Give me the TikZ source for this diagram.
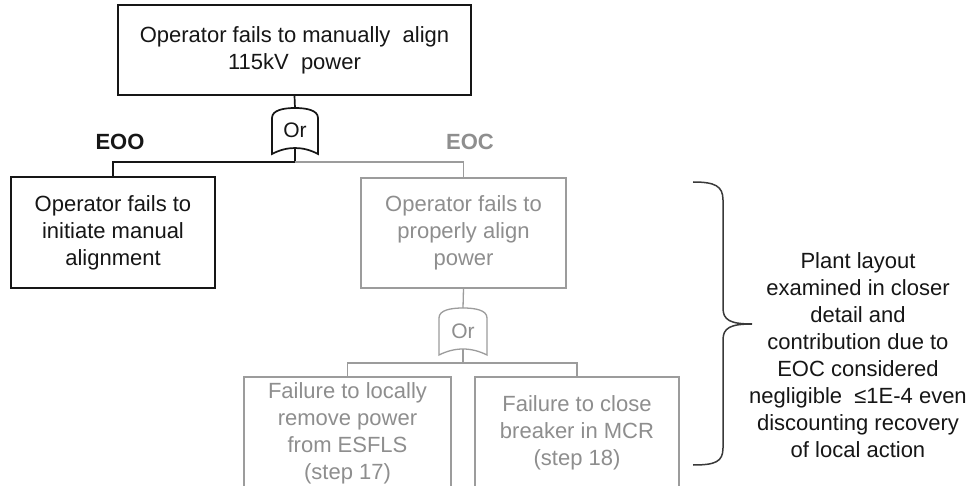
\documentclass[tikz,border=0pt]{standalone}
\usepackage{fontspec}
\setmainfont{Liberation Sans}
\definecolor{ink}{HTML}{161616}
\definecolor{greyline}{HTML}{9C9C9C}
\definecolor{greytext}{HTML}{8E8E8E}
\begin{document}
\begin{tikzpicture}[x=1pt,y=-1pt,
  every node/.style={font=\fontsize{22}{27}\selectfont, inner sep=0pt, align=center},
  blackbox/.style={draw=ink, line width=1.7pt, text=ink},
  greybox/.style={draw=greyline, line width=1.3pt, text=greytext},
  blackline/.style={draw=ink, line width=1.7pt},
  greyline/.style={draw=greyline, line width=1.3pt},
  gatetext/.style={font=\fontsize{21}{25}\selectfont},
  label/.style={font=\bfseries\fontsize{22}{27}\selectfont}]
\useasboundingbox (0,0) rectangle (967,486);
\clip (0,0) rectangle (967,486);
\fill[white] (0,0) rectangle (967,486);

% boxes
\node[blackbox, minimum width=353pt, minimum height=90pt] (top) at (294.5,50)
  {Operator fails to manually\ \ align\\115kV\ \ power};
\node[blackbox, minimum width=204pt, minimum height=111pt] (eoo) at (113,232.5)
  {Operator fails to\\initiate manual\\alignment};
\node[greybox, minimum width=205pt, minimum height=110pt] (eoc) at (463.5,233)
  {Operator fails to\\properly align\\power};
\node[greybox, minimum width=207pt, minimum height=112pt] (b1) at (347.5,433)
  {Failure to locally\\remove power\\from ESFLS\\(step 17)};
\node[greybox, minimum width=204pt, minimum height=112pt] (b2) at (577,433)
  {Failure to close\\breaker in MCR\\(step 18)};

% labels
\node[label, text=ink] (eoolab) at (120,142) {EOO};
\node[label, text=greytext] (eoclab) at (470,142) {EOC};

% gate 1 (black)
\draw[blackline] (272,154) -- (272,118) .. controls (272,110) and (284,108) .. (295,108)
  .. controls (306,108) and (318,110) .. (318,118) -- (318,154)
  .. controls (303,146) and (287,146) .. (272,154) -- cycle;
\node[gatetext, text=ink] (g1) at (295,130) {Or};
\coordinate (g1in) at (295,108);
\coordinate (g1out) at (295,149);
\coordinate (j1) at (295,162);

% gate 2 (grey)
\draw[greyline] (439,355) -- (439,318) .. controls (439,310) and (451,308) .. (463,308)
  .. controls (475,308) and (487,310) .. (487,318) -- (487,355)
  .. controls (471,347) and (455,347) .. (439,355) -- cycle;
\node[gatetext, text=greytext] (g2) at (463,331) {Or};
\coordinate (g2in) at (463,308);
\coordinate (g2out) at (463,349.5);
\coordinate (j2) at (463,363);

% connectors
\draw[blackline] (top.south) -- (g1in);
\draw[blackline] (g1out) -- (j1) -| (eoo.north);
\draw[greyline] (j1) -| (eoc.north);
\draw[greyline] (eoc.south) -- (g2in);
\draw[greyline] (g2out) -- (j2);
\draw[greyline] (j2) -| (b1.north);
\draw[greyline] (j2) -| (b2.north);

% brace
\coordinate (bt) at (693,182);
\coordinate (bm) at (752,324);
\coordinate (bb) at (693,465);
\draw[draw=ink!85, line width=1.5pt]
  (bt) .. controls (715,182) and (723,186) .. (723,200) -- (723,308)
  .. controls (723,320) and (730,324) .. (bm)
  .. controls (730,324) and (723,328) .. (723,340) -- (723,448)
  .. controls (723,462) and (715,465) .. (bb);

% note
\node[text=ink] (note) at (858,355)
  {Plant layout\\examined in closer\\detail and\\contribution due to\\EOC considered\\negligible\ \ ≤1E-4 even\\discounting recovery\\of local action};
\end{tikzpicture}
\end{document}
